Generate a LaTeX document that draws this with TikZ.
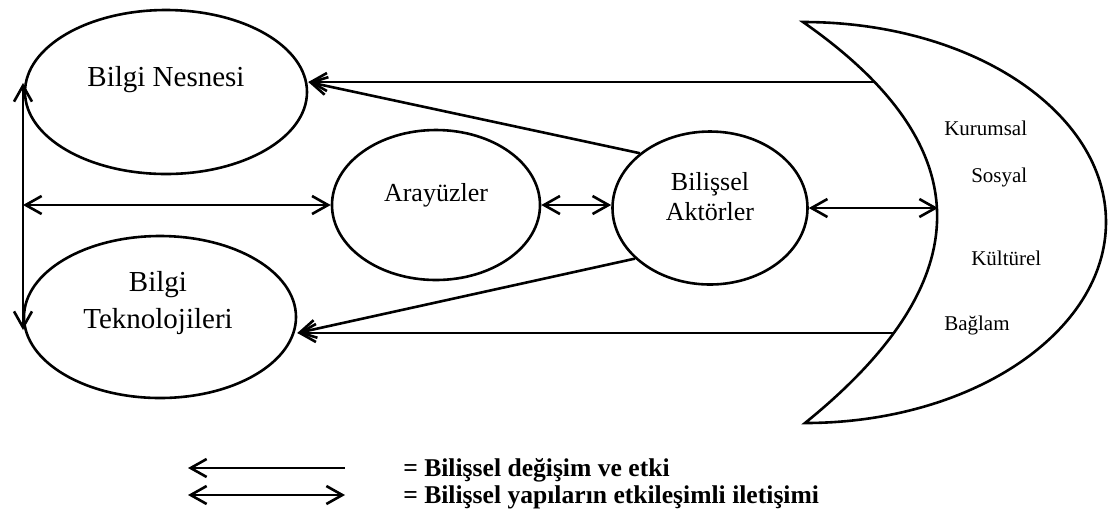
\documentclass[tikz,border=0pt]{standalone}
\usepackage{fontspec}
\setmainfont{Liberation Serif}
\usetikzlibrary{shapes.geometric, arrows.meta}
\tikzset{>={Straight Barb[length=8pt, width=9pt]}}

\begin{document}
\begin{tikzpicture}[x=0.5pt, y=-0.5pt, line width=1.3pt,
  oval/.style={draw, ellipse, inner sep=0pt},
  bigtxt/.style={font=\fontsize{14.5}{18.5}\selectfont, align=center},
  midtxt/.style={font=\fontsize{13}{15}\selectfont, align=center},
  ctxtxt/.style={font=\fontsize{10.5}{12}\selectfont, anchor=base west, inner sep=0pt},
  keytxt/.style={font=\bfseries\fontsize{12.8}{15}\selectfont, anchor=base west, inner sep=0pt}]
\useasboundingbox (0,0) rectangle (1109,511);
% ellipses
\node[oval, minimum width=141pt, minimum height=82pt] (nes) at (166,92) {};
\node[oval, minimum width=136pt, minimum height=81pt] (tek) at (160,317) {};
\node[oval, minimum width=104pt, minimum height=75pt] (ara) at (436,205) {};
\node[oval, minimum width=97.5pt, minimum height=76.5pt] (akt) at (710,208) {};
\node[bigtxt] (nesT) at ([yshift=6pt]nes.center) {Bilgi Nesnesi};
\node[bigtxt] (tekT) at ([xshift=-1pt, yshift=7pt]tek.center) {Bilgi\\Teknolojileri};
\node[midtxt] (araT) at ([yshift=5pt]ara.center) {Arayüzler};
\node[midtxt] (aktT) at ([yshift=5.5pt]akt.center) {Bilişsel\\Aktörler};
% crescent
\draw (803,22) .. controls (972,22) and (1106,112) .. (1106,222)
  .. controls (1106,332) and (972,423) .. (805,423)
  .. controls (982,280) and (981,146) .. cycle;
\coordinate (kT) at (874,82);
\coordinate (kM) at (938,208);
\coordinate (kB) at (894,333);
\node[ctxtxt] (kur) at (943,135) {Kurumsal};
\node[ctxtxt] (sos) at (970,182) {Sosyal};
\node[ctxtxt] (kul) at (970,265) {Kültürel};
\node[ctxtxt] (bag) at (943,330) {Bağlam};
% connectors
\coordinate (vT) at (23,83);
\coordinate (vM) at (23,205);
\coordinate (vB) at (23,330);
\draw[<->] (vT) -- (vB);
\draw[<->] (vM) -- (ara.west);
\draw[<->] (ara.east) -- (ara.east -| akt.west);
\draw[<->] (akt.east) -- (akt.east -| kM);
\draw[->] (kT) -- (nes.east |- kT);
\draw[->] (akt.142) -- (nes.east |- kT);
\draw[->] (kB) -- (tek.east |- kB);
\draw[->] (akt.214) -- (tek.east |- kB);
% legend
\coordinate (l1a) at (188,468);
\coordinate (l1b) at (345,468);
\coordinate (l2a) at (188,495);
\coordinate (l2b) at (345,495);
\draw[<-] (l1a) -- (l1b);
\draw[<->] (l2a) -- (l2b);
\node[keytxt] (key1) at (402,476) {= Bilişsel değişim ve etki};
\node[keytxt] (key2) at (402,503) {= Bilişsel yapıların etkileşimli iletişimi};
\end{tikzpicture}
\end{document}
